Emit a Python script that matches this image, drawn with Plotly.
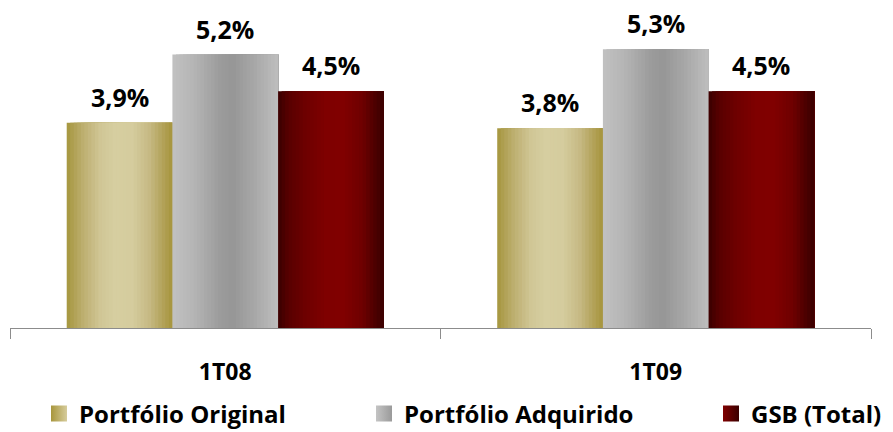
import plotly.graph_objects as go

# Data
periods = ["1T08", "1T09"]
series_names = ["Portfólio Original", "Portfólio Adquirido", "GSB (Total)"]
original = [3.9, 3.8]
adquirido = [5.2, 5.3]
gsb_total = [4.5, 4.5]

# Horizontal shading profiles (position across the bar, RGB)
shade_gold = [(0.0, (166, 150, 62)), (0.15, (188, 174, 110)), (0.32, (208, 198, 150)),
              (0.45, (214, 206, 160)), (0.62, (213, 204, 158)), (0.78, (198, 186, 132)),
              (0.9, (180, 164, 92)), (1.0, (166, 148, 60))]
shade_gray = [(0.0, (193, 193, 193)), (0.2, (181, 181, 181)), (0.45, (156, 156, 156)),
              (0.57, (150, 150, 150)), (0.78, (168, 168, 168)), (1.0, (190, 190, 190))]
shade_red = [(0.0, (58, 0, 0)), (0.1, (88, 0, 0)), (0.26, (110, 0, 0)), (0.45, (127, 0, 0)),
             (0.62, (128, 0, 0)), (0.8, (110, 0, 0)), (0.92, (76, 0, 0)), (1.0, (58, 0, 0))]
# legend swatches: (left colour, right colour)
swatches = [("#a8963c", "#d6cc9c"), ("#c4c4c4", "#9a9a9a"), ("#800000", "#3a0000")]


def shade_at(profile, t):
    for (p0, c0), (p1, c1) in zip(profile, profile[1:]):
        if p0 <= t <= p1:
            f = (t - p0) / (p1 - p0) if p1 > p0 else 0
            c = [round(a + (b - a) * f) for a, b in zip(c0, c1)]
            return f"rgb({c[0]},{c[1]},{c[2]})"
    c = profile[-1][1]
    return f"rgb({c[0]},{c[1]},{c[2]})"


def fmt(v):
    return f"{v:.1f}".replace(".", ",") + "%"


FONT = "Open Sans"
bar_w = 0.2455
group_left = -1.5 * bar_w
n_strips = 30

fig = go.Figure()
all_series = [original, adquirido, gsb_total]
profiles = [shade_gold, shade_gray, shade_red]
legends = ["legend", "legend2", "legend3"]

for i, (name, vals, prof) in enumerate(zip(series_names, all_series, profiles)):
    left = group_left + i * bar_w
    # shaded strips painted left to right; each one runs to the bar's right edge
    for k in range(n_strips):
        off = left + k * bar_w / n_strips
        wid = bar_w * (n_strips - k) / n_strips
        fig.add_trace(go.Bar(
            x=periods, y=vals, offset=off, width=wid, showlegend=False,
            marker=dict(color=shade_at(prof, (k + 0.5) / n_strips), line=dict(width=0)),
            hoverinfo="skip",
        ))
    # value labels above each bar
    for j, v in enumerate(vals):
        fig.add_annotation(
            x=j + left + bar_w / 2, y=v, text=fmt(v), showarrow=False,
            xanchor="center", yanchor="bottom", yshift=7,
            font=dict(family=FONT, size=25, color="#000000", weight="bold"),
        )
    # legend swatch
    fig.add_trace(go.Scatter(
        x=[None], y=[None], mode="markers", name=name, legend=legends[i],
        marker=dict(symbol="square", size=16, color=swatches[i][0],
                    gradient=dict(type="horizontal", color=swatches[i][1])),
        hoverinfo="skip",
    ))

legend_common = dict(orientation="h", yanchor="middle", xanchor="left",
                     xref="container", yref="container", y=1 - 414 / 432,
                     font=dict(family=FONT, size=24, color="#000000", weight="bold"),
                     bgcolor="rgba(0,0,0,0)", borderwidth=0)

fig.update_layout(
    width=893, height=432,
    margin=dict(l=10, r=22, t=10, b=104),
    paper_bgcolor="#ffffff", plot_bgcolor="#ffffff",
    barmode="overlay",
    showlegend=True,
    legend=dict(x=39 / 893, **legend_common),
    legend2=dict(x=364 / 893, **legend_common),
    legend3=dict(x=711 / 893, **legend_common),
    xaxis=dict(
        type="category", range=[-0.5, 1.5], automargin=False,
        showline=True, linecolor="#8c8c8c", linewidth=1,
        ticks="outside", ticklen=10, tickcolor="#8c8c8c", tickson="boundaries",
        showgrid=False, ticklabelstandoff=23,
        tickfont=dict(family=FONT, size=23, color="#000000", weight="bold"),
    ),
    yaxis=dict(range=[0, 6.046], visible=False, showgrid=False, zeroline=False,
               automargin=False),
)

fig.write_html("out.html")
